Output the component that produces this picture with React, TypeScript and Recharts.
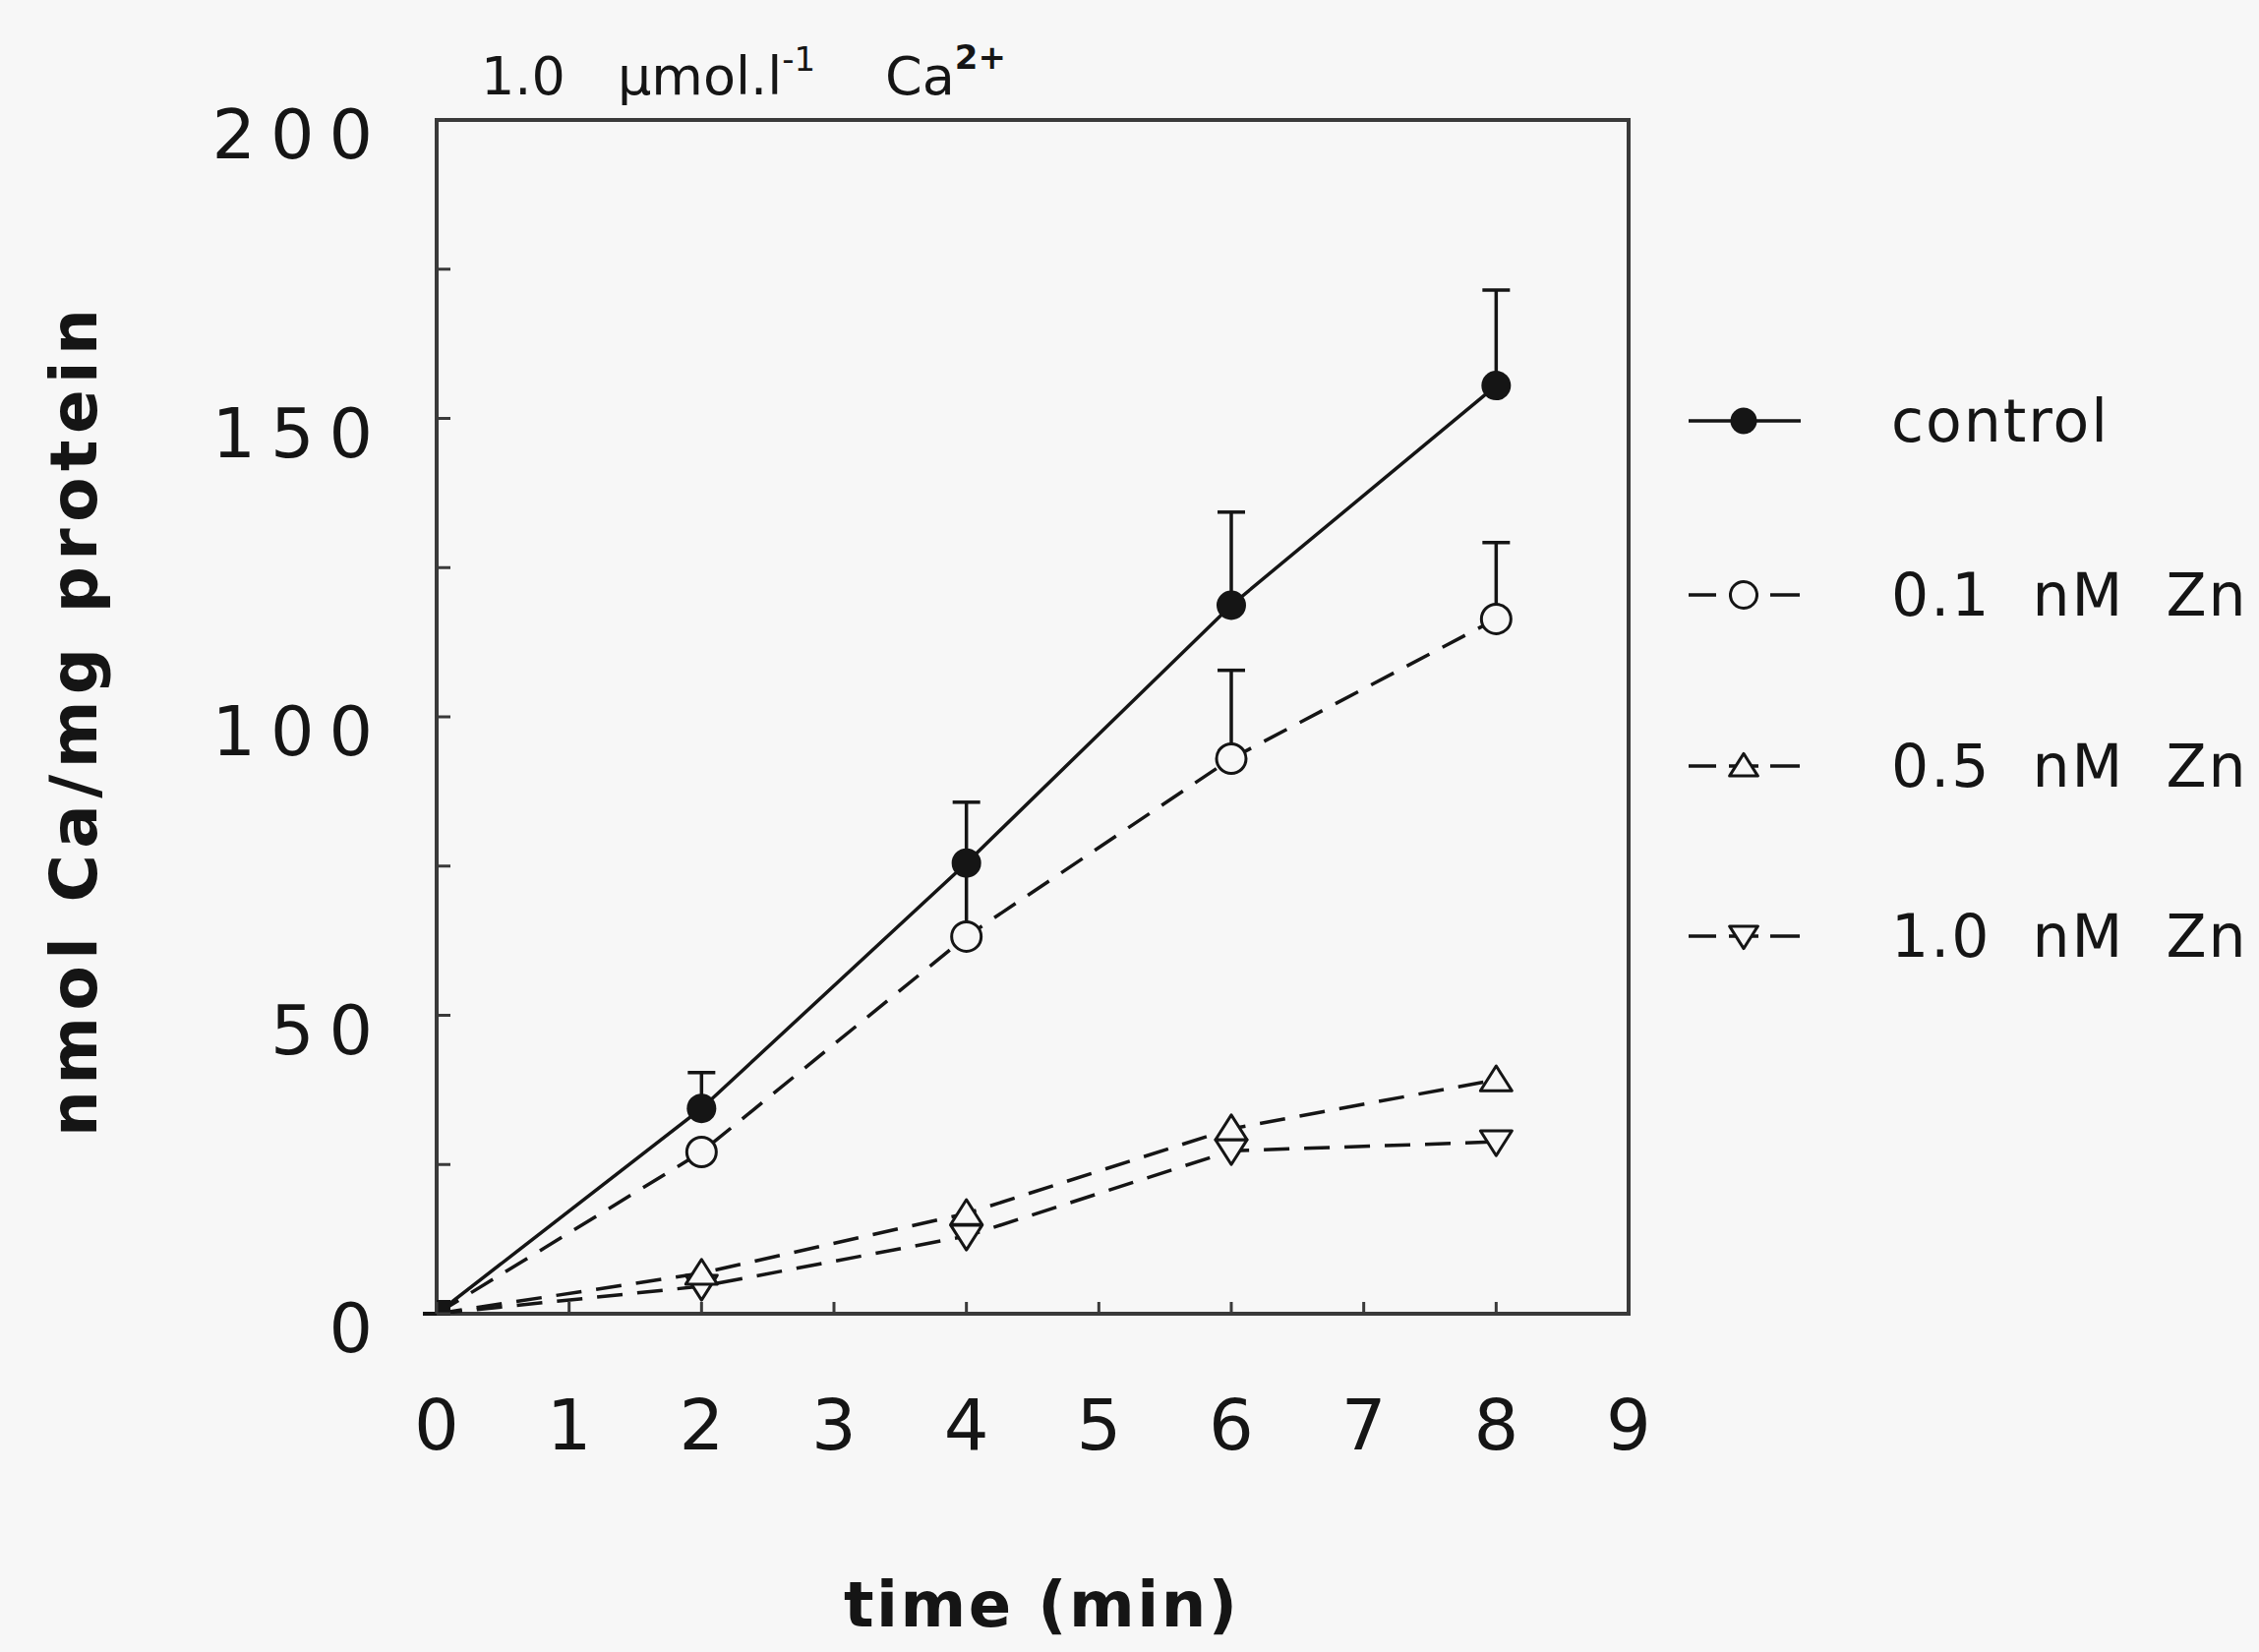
import React from "react";
import { ComposedChart, Line, XAxis, YAxis, ErrorBar, ReferenceArea, Label } from "recharts";

// time points (min)
const times = [0, 2, 4, 6, 8];

// nmol Ca / mg protein
const control = [0, 34.4, 75.5, 118.7, 155.5];
const controlErr = [0, 6, 10.2, 15.6, 16];
const zn01 = [0, 27.1, 63.2, 93, 116.4];
const zn01Err = [0, 0, 12, 14.8, 12.8];
const zn05 = [0, 6.8, 16.8, 31, 39.2];
const zn10 = [0, 4.6, 13, 27.3, 28.8];

const xTicks = [0, 1, 2, 3, 4, 5, 6, 7, 8, 9];
const yTicks = [0, 25, 50, 75, 100, 125, 150, 175, 200];
const yLabelled = [0, 50, 100, 150, 200];

const legendNames = ["control", "0.1  nM  Zn", "0.5  nM  Zn", "1.0  nM  Zn"];
const legendShapes = ["filled", "circle", "up", "down"];

const ink = "#151515";
const frame = "#3a3a3a";
const paper = "#f7f7f7";
const font = "'DejaVu Sans', sans-serif";
const dash = "26 15";
const lw = 3.5;

const data = times.map((t, i) => ({
  t,
  control: control[i],
  controlErr: [0, controlErr[i]],
  zn01: zn01[i],
  zn01Err: [0, zn01Err[i]],
  zn05: zn05[i],
  zn10: zn10[i],
}));

function marker(shape: string, cx: number, cy: number, s = 1) {
  if (shape === "filled") return <circle cx={cx} cy={cy} r={15 * s} fill={ink} />;
  if (shape === "circle")
    return <circle cx={cx} cy={cy} r={15 * s} fill={paper} stroke={ink} strokeWidth={3} />;
  const h = 14 * s;
  const w = 16 * s;
  const pts =
    shape === "up"
      ? `${cx},${cy - h} ${cx + w},${cy + h * 0.8} ${cx - w},${cy + h * 0.8}`
      : `${cx},${cy + h} ${cx + w},${cy - h * 0.8} ${cx - w},${cy - h * 0.8}`;
  return <polygon points={pts} fill={paper} stroke={ink} strokeWidth={3} strokeLinejoin="round" />;
}

// dots: origin point is a solid block in the original, other series hidden under it
const makeDot = (shape: string) => (p: any) => {
  const { cx, cy, index } = p;
  if (index === 0) {
    return shape === "filled" ? (
      <rect key={`o-${shape}`} x={cx - 14} y={cy - 14} width={28} height={28} fill={ink} />
    ) : (
      <g key={`o-${shape}`} />
    );
  }
  return <g key={`${shape}-${index}`}>{marker(shape, cx, cy)}</g>;
};

function XTick({ x, y, payload }: any) {
  return (
    <g>
      <line x1={x} x2={x} y1={y} y2={y - 12} stroke={frame} strokeWidth={3} />
      <text x={x} y={y + 138} textAnchor="middle" fontSize={72} fontFamily={font} fill={ink}>
        {payload.value}
      </text>
    </g>
  );
}

function YTick({ x, y, payload }: any) {
  const v = payload.value;
  return (
    <g>
      <line x1={x} x2={x + 14} y1={y} y2={y} stroke={frame} strokeWidth={3} />
      {yLabelled.includes(v) && (
        <text
          x={x - 50}
          y={y + 39}
          textAnchor="end"
          fontSize={70}
          letterSpacing={15}
          fontFamily={font}
          fill={ink}
        >
          {v}
        </text>
      )}
    </g>
  );
}

export default function App() {
  return (
    <div style={{ position: "absolute", left: 0, top: 0, width: 2297, height: 1680, background: paper }}>
      {/* panel title */}
      <svg width={2297} height={140} style={{ position: "absolute", left: 0, top: 0 }}>
        <text y={96} fontSize={54} fontFamily={font} fill={ink}>
          <tspan x={489}>1.0</tspan>
          <tspan x={628}>µmol.l</tspan>
          <tspan fontSize={34} dy={-24}>-1</tspan>
          <tspan x={900} dy={24}>Ca</tspan>
          <tspan fontSize={34} fontWeight="bold" dy={-26}>2+</tspan>
        </text>
      </svg>

      <ComposedChart
        width={2297}
        height={1680}
        data={data}
        margin={{ top: 122, right: 641, bottom: 0, left: 0 }}
      >
        <XAxis
          dataKey="t"
          type="number"
          domain={[0, 9]}
          ticks={xTicks}
          interval={0}
          allowDataOverflow
          axisLine={false}
          tickLine={false}
          tickSize={0}
          tickMargin={0}
          height={344}
          tick={<XTick />}
        >
          <Label
            content={({ viewBox }: any) => (
              <text
                x={viewBox.x + viewBox.width / 2 + 8}
                y={viewBox.y + 318}
                textAnchor="middle"
                fontSize={64}
                fontWeight="bold"
                fontFamily={font}
                fill={ink}
                textLength={400}
                lengthAdjust="spacing"
              >
                time  (min)
              </text>
            )}
          />
        </XAxis>
        <YAxis
          type="number"
          domain={[0, 200]}
          ticks={yTicks}
          interval={0}
          allowDataOverflow
          axisLine={false}
          tickLine={false}
          tickSize={0}
          tickMargin={0}
          width={444}
          tick={<YTick />}
        >
          <Label
            content={({ viewBox }: any) => {
              const cx = viewBox.x + 75;
              const cy = viewBox.y + viewBox.height / 2 + 6;
              return (
                <text
                  x={cx}
                  y={cy}
                  transform={`rotate(-90 ${cx} ${cy})`}
                  textAnchor="middle"
                  dominantBaseline="central"
                  fontSize={66}
                  fontWeight="bold"
                  fontFamily={font}
                  fill={ink}
                  textLength={842}
                  lengthAdjust="spacing"
                >
                  nmol  Ca/mg  protein
                </text>
              );
            }}
          />
        </YAxis>

        {/* frame */}
        <ReferenceArea x1={0} x2={9} y1={0} y2={200} fill="none" stroke={frame} strokeWidth={4} />

        <Line
          dataKey="zn10"
          stroke={ink}
          strokeWidth={lw}
          strokeDasharray={dash}
          dot={makeDot("down")}
          activeDot={false}
          isAnimationActive={false}
        />
        <Line
          dataKey="zn05"
          stroke={ink}
          strokeWidth={lw}
          strokeDasharray={dash}
          dot={makeDot("up")}
          activeDot={false}
          isAnimationActive={false}
        />
        <Line
          dataKey="zn01"
          stroke={ink}
          strokeWidth={lw}
          strokeDasharray={dash}
          dot={makeDot("circle")}
          activeDot={false}
          isAnimationActive={false}
        >
          <ErrorBar dataKey="zn01Err" direction="y" width={14} stroke={ink} strokeWidth={lw} isAnimationActive={false} />
        </Line>
        <Line
          dataKey="control"
          stroke={ink}
          strokeWidth={lw}
          dot={makeDot("filled")}
          activeDot={false}
          isAnimationActive={false}
        >
          <ErrorBar dataKey="controlErr" direction="y" width={14} stroke={ink} strokeWidth={lw} isAnimationActive={false} />
        </Line>
      </ComposedChart>

      {/* legend */}
      {legendNames.map((name, i) => {
        const top = [428, 605, 779, 952][i];
        const shape = legendShapes[i];
        return (
          <div
            key={name}
            style={{
              position: "absolute",
              left: 1712,
              top: top - 40,
              height: 80,
              display: "flex",
              alignItems: "center",
            }}
          >
            <svg width={124} height={80}>
              {shape === "filled" ? (
                <line x1={5} x2={119} y1={40} y2={40} stroke={ink} strokeWidth={lw} />
              ) : (
                <>
                  <line x1={5} x2={33} y1={40} y2={40} stroke={ink} strokeWidth={lw} />
                  <line x1={88} x2={118} y1={40} y2={40} stroke={ink} strokeWidth={lw} />
                  <line x1={46} x2={76} y1={40} y2={40} stroke={ink} strokeWidth={lw} />
                </>
              )}
              {marker(shape, 61, 40, 0.9)}
            </svg>
            <span
              style={{
                marginLeft: 87,
                fontFamily: font,
                fontSize: 60,
                letterSpacing: 2,
                whiteSpace: "pre",
                color: ink,
                lineHeight: "80px",
              }}
            >
              {name}
            </span>
          </div>
        );
      })}
    </div>
  );
}
